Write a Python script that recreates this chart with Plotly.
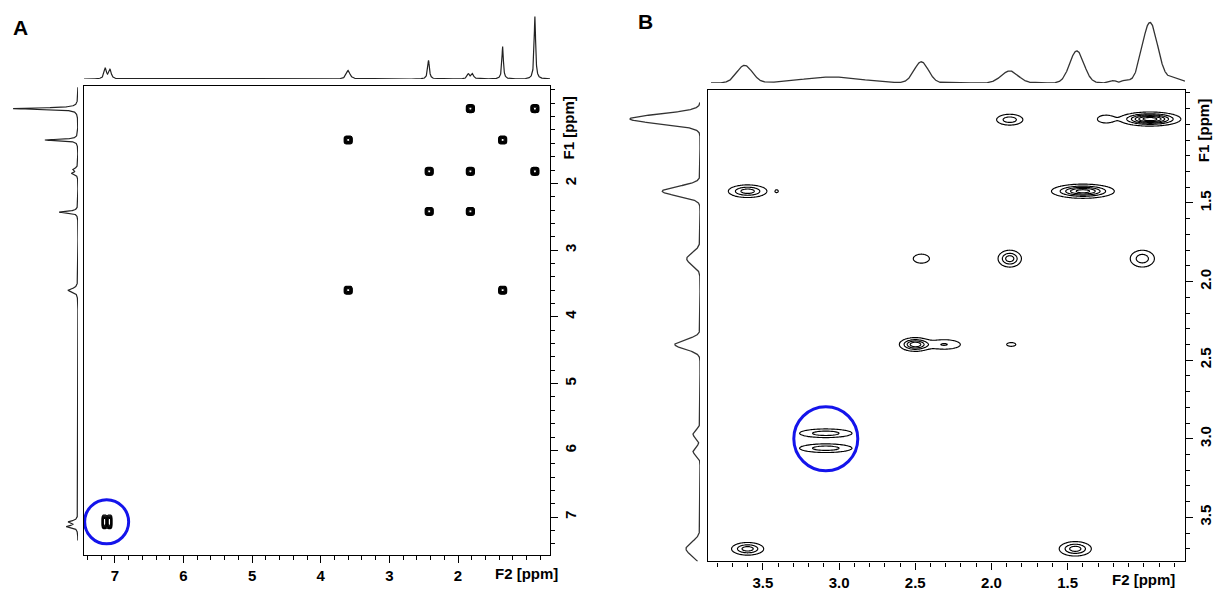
import numpy as np
import plotly.graph_objects as go

W, H = 1216, 591

# ---------------- Panel A data ----------------
A_f2_range = [7.45, 0.66]
A_f1_range = [7.56, 0.54]
A_f2_ticks = [2, 3, 4, 5, 6, 7]
A_f1_ticks = [2, 3, 4, 5, 6, 7]
# 1D projection peaks: position (ppm), relative heights, widths (ppm)
A_peak_ppm = [7.14, 7.07, 3.60, 2.43, 1.85, 1.79, 1.35, 0.88]
A_top_height = [0.17, 0.15, 0.14, 0.30, 0.08, 0.08, 0.52, 1.00]
A_left_height = [0.17, 0.14, 0.15, 0.29, 0.09, 0.07, 0.51, 1.00]
A_peak_width = [0.04, 0.04, 0.06, 0.03, 0.04, 0.04, 0.025, 0.025]
# cross peaks (F2, F1, intensity, sigma F2, sigma F1, group)
A_xp_f2 = [7.15, 7.08, 3.60, 2.42, 1.82, 1.35, 0.88, 1.82, 0.88, 3.60, 1.35, 2.42, 1.82]
A_xp_f1 = [7.07, 7.07, 3.60, 2.42, 1.82, 1.35, 0.88, 0.88, 1.82, 1.35, 3.60, 1.82, 2.42]
A_xp_amp = [0.9, 0.9, 1, 1, 1, 1, 1, 1, 1, 1, 1, 1, 1]
A_xp_sx = [0.026, 0.026, 0.04, 0.04, 0.04, 0.04, 0.04, 0.04, 0.04, 0.04, 0.04, 0.04, 0.04]
A_xp_sy = [0.07, 0.07, 0.04, 0.04, 0.04, 0.04, 0.04, 0.04, 0.04, 0.04, 0.04, 0.04, 0.04]
A_xp_group = [0, 0, 1, 2, 3, 4, 5, 6, 7, 8, 9, 10, 11]

# ---------------- Panel B data ----------------
B_f2_range = [3.86, 0.73]
B_f1_range = [3.78, 0.78]
B_ticks = [1.5, 2.0, 2.5, 3.0, 3.5]
B_ticktext = ["1.5", "2.0", "2.5", "3.0", "3.5"]
B_top_ppm = [3.62, 3.05, 2.46, 1.88, 1.44, 1.20, 1.12, 0.96, 0.80]
B_top_height = [0.29, 0.10, 0.35, 0.20, 0.53, 0.04, 0.05, 1.00, 0.08]
B_top_width = [0.12, 0.45, 0.11, 0.13, 0.11, 0.05, 0.05, 0.12, 0.12]
B_left_ppm = [0.965, 1.425, 1.855, 2.40, 2.97, 3.08, 3.70]
B_left_height = [1.00, 0.54, 0.19, 0.36, 0.10, 0.10, 0.20]
B_left_width = [0.07, 0.07, 0.09, 0.07, 0.06, 0.06, 0.10]
# cross peaks (F2, F1, amp, sigma F2, sigma F1, group)
B_xp_f2 = [0.96, 1.25, 1.88, 3.60, 3.41, 1.40, 2.46, 1.88, 1.01, 2.50, 2.31, 1.87, 3.087, 3.087, 3.60, 1.45]
B_xp_f1 = [0.966, 0.966, 0.97, 1.425, 1.425, 1.425, 1.854, 1.854, 1.854, 2.40, 2.40, 2.40, 2.965, 3.06, 3.70, 3.70]
B_xp_amp = [1.0, 0.2, 0.35, 0.5, 0.12, 0.8, 0.2, 0.5, 0.35, 0.7, 0.25, 0.13, 0.35, 0.35, 0.5, 0.5]
B_xp_sx = [0.09, 0.04, 0.05, 0.066, 0.012, 0.096, 0.039, 0.04, 0.046, 0.05, 0.07, 0.03, 0.10, 0.10, 0.055, 0.055]
B_xp_sy = [0.02, 0.018, 0.02, 0.021, 0.01, 0.021, 0.021, 0.028, 0.031, 0.021, 0.02, 0.012, 0.016, 0.016, 0.021, 0.024]
B_xp_group = [0, 0, 1, 2, 3, 4, 5, 6, 7, 8, 8, 9, 10, 10, 11, 12]

# circles (centre ppm, radius px)
A_circle = (7.12, 7.07, 22)
B_circle = (3.087, 3.0, 32)

BLUE = "rgb(20,20,235)"
FONT = "Liberation Sans"


def px_x(p):
    return p / W


def px_y(p):
    return 1 - p / H


def lorentz(x, c, h, w):
    return h / (1 + ((x - c) / (w / 2)) ** 2)


def gauss(x, c, h, w):
    return h * np.exp(-4 * np.log(2) * (x - c) ** 2 / w ** 2)


fig = go.Figure()

# ---- 1D spectra ----
a_ppm = np.linspace(A_f2_range[1], A_f2_range[0], 5000)
a_top = sum(lorentz(a_ppm, c, h, w) for c, h, w in zip(A_peak_ppm, A_top_height, A_peak_width))
a_ppm1 = np.linspace(0.56, 7.35, 5000)
a_left = sum(lorentz(a_ppm1, c, h, w) for c, h, w in zip(A_peak_ppm, A_left_height, A_peak_width))
fig.add_trace(go.Scatter(x=a_ppm, y=a_top, mode="lines", line=dict(color="#222", width=1.2),
                         xaxis="x2", yaxis="y2", hoverinfo="skip"))
fig.add_trace(go.Scatter(x=a_left, y=a_ppm1, mode="lines", line=dict(color="#222", width=1.2),
                         xaxis="x3", yaxis="y3", hoverinfo="skip"))

b_ppm = np.linspace(B_f2_range[1], B_f2_range[0] - 0.02, 3000)
b_top = sum(gauss(b_ppm, c, h, w) for c, h, w in zip(B_top_ppm, B_top_height, B_top_width))
b_ppm1 = np.linspace(0.86, 3.78, 3000)
b_left = sum(gauss(b_ppm1, c, h, w) for c, h, w in zip(B_left_ppm, B_left_height, B_left_width))
fig.add_trace(go.Scatter(x=b_ppm, y=b_top, mode="lines", line=dict(color="#333", width=1.3),
                         xaxis="x5", yaxis="y5", hoverinfo="skip"))
fig.add_trace(go.Scatter(x=b_left, y=b_ppm1, mode="lines", line=dict(color="#333", width=1.3),
                         xaxis="x6", yaxis="y6", hoverinfo="skip"))


# ---- 2D contours ----
def add_contours(f2, f1, amp, sx, sy, groups, xa, ya, start, size, width, power):
    f2 = np.array(f2); f1 = np.array(f1); amp = np.array(amp)
    sx = np.array(sx); sy = np.array(sy); groups = np.array(groups)
    for g in np.unique(groups):
        m = groups == g
        x0 = (f2[m] - 4 * sx[m]).min(); x1 = (f2[m] + 4 * sx[m]).max()
        y0 = (f1[m] - 4 * sy[m]).min(); y1 = (f1[m] + 4 * sy[m]).max()
        xs = np.linspace(x0, x1, 70)
        ys = np.linspace(y0, y1, 60)
        X, Y = np.meshgrid(xs, ys)
        Z = np.zeros_like(X)
        for c2, c1, a, s2, s1 in zip(f2[m], f1[m], amp[m], sx[m], sy[m]):
            Z += a * np.exp(-np.abs((X - c2) / s2) ** power / 2 - np.abs((Y - c1) / s1) ** power / 2)
        fig.add_trace(go.Contour(x=xs, y=ys, z=Z, xaxis=xa, yaxis=ya,
                                 autocontour=False,
                                 contours=dict(coloring="lines", start=start, end=1.2, size=size),
                                 colorscale=[[0, "black"], [1, "black"]], showscale=False,
                                 line=dict(width=width), hoverinfo="skip"))


add_contours(A_xp_f2, A_xp_f1, A_xp_amp, A_xp_sx, A_xp_sy, A_xp_group,
             "x", "y", 0.1, 0.17, 1.2, 4)
add_contours(B_xp_f2, B_xp_f1, B_xp_amp, B_xp_sx, B_xp_sy, B_xp_group,
             "x4", "y4", 0.08, 0.16, 1.15, 2)

# ---- layout ----
A_dx = [px_x(84), px_x(550)]
A_dy = [px_y(568), px_y(88)]
B_dx = [px_x(708), px_x(1185)]
B_dy = [px_y(575), px_y(92)]

tickfont = dict(family=FONT, size=15, color="black", weight="bold")


def main_x(rng, domain, tickvals, ticktext, minor, anchor):
    return dict(domain=domain, range=rng, anchor=anchor, tickmode="array", tickvals=tickvals,
                ticktext=ticktext, ticks="outside", ticklen=7, tickwidth=1.2, tickcolor="black",
                minor=dict(ticks="outside", ticklen=4, tickwidth=1, tickcolor="black",
                           dtick=minor, tick0=0, tickmode="linear"),
                showgrid=False, zeroline=False, showline=True, mirror=True,
                linecolor="black", linewidth=1.3, tickfont=tickfont)


def main_y(rng, domain, tickvals, ticktext, minor, anchor):
    d = main_x(rng, domain, tickvals, ticktext, minor, anchor)
    d.update(side="right", tickangle=-90)
    return d


hidden = dict(visible=False, showgrid=False, zeroline=False)

fig.update_layout(
    width=W, height=H, margin=dict(l=0, r=0, t=0, b=0),
    paper_bgcolor="white", plot_bgcolor="rgba(0,0,0,0)", showlegend=False,
    xaxis=main_x(A_f2_range, A_dx, A_f2_ticks, [str(v) for v in A_f2_ticks], 0.2, "y"),
    yaxis=main_y(A_f1_range, A_dy, A_f1_ticks, [str(v) for v in A_f1_ticks], 0.2, "x"),
    xaxis2=dict(hidden, domain=A_dx, range=A_f2_range, anchor="y2"),
    yaxis2=dict(hidden, domain=[px_y(81), px_y(10)], range=[0, 71 / 64], anchor="x2"),
    xaxis3=dict(hidden, domain=[px_x(5), px_x(78)], range=[73 / 65, 0], anchor="y3"),
    yaxis3=dict(hidden, domain=A_dy, range=A_f1_range, anchor="x3"),
    xaxis4=main_x(B_f2_range, B_dx, B_ticks, B_ticktext, 0.1, "y4"),
    yaxis4=main_y(B_f1_range, B_dy, B_ticks, B_ticktext, 0.1, "x4"),
    xaxis5=dict(hidden, domain=B_dx, range=B_f2_range, anchor="y5"),
    yaxis5=dict(hidden, domain=[px_y(85), px_y(15)], range=[0, 70 / 62], anchor="x5"),
    xaxis6=dict(hidden, domain=[px_x(620), px_x(700)], range=[80 / 70, 0], anchor="y6"),
    yaxis6=dict(hidden, domain=B_dy, range=B_f1_range, anchor="x6"),
)

lab_font = dict(family=FONT, size=15, color="black", weight="bold")
ann = [
    dict(text="A", x=px_x(20), y=px_y(28), xref="paper", yref="paper", showarrow=False,
         xanchor="center", yanchor="middle",
         font=dict(family=FONT, size=21, color="black", weight="bold")),
    dict(text="B", x=px_x(645), y=px_y(22), xref="paper", yref="paper", showarrow=False,
         xanchor="center", yanchor="middle",
         font=dict(family=FONT, size=21, color="black", weight="bold")),
    dict(text="F2 [ppm]", x=1.0, y=0, xref="x", yref="y domain", xanchor="center",
         yanchor="top", yshift=-8, showarrow=False, font=lab_font),
    dict(text="F1 [ppm]", x=1, y=1.17, xref="x domain", yref="y", xanchor="left",
         yanchor="middle", xshift=8, textangle=-90, showarrow=False, font=lab_font),
    dict(text="F2 [ppm]", x=1.0, y=0, xref="x4", yref="y4 domain", xanchor="center",
         yanchor="top", yshift=-8, showarrow=False, font=lab_font),
    dict(text="F1 [ppm]", x=1, y=1.04, xref="x4 domain", yref="y4", xanchor="left",
         yanchor="middle", xshift=8, textangle=-90, showarrow=False, font=lab_font),
]
fig.update_layout(annotations=ann)

shapes = []
for (cx, cy, r), xr, yr in [(A_circle, "x", "y"), (B_circle, "x4", "y4")]:
    shapes.append(dict(type="circle", xref=xr, yref=yr, xsizemode="pixel", ysizemode="pixel",
                       xanchor=cx, yanchor=cy, x0=-r, x1=r, y0=-r, y1=r,
                       line=dict(color=BLUE, width=3)))
fig.update_layout(shapes=shapes)

fig.write_html("out.html", config={"displayModeBar": False},
               post_script="document.body.style.margin='0';document.body.style.overflow='hidden';")
